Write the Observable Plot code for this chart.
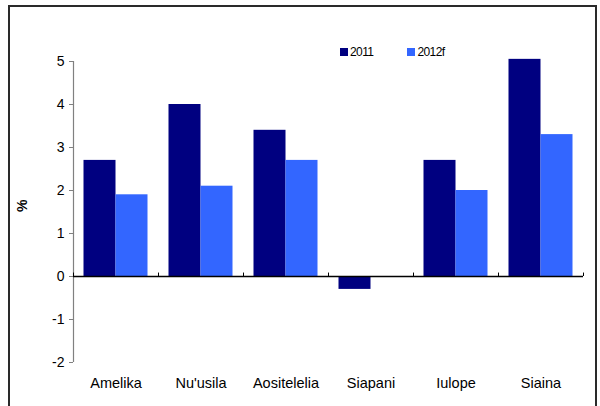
<!DOCTYPE html>
<html><head><meta charset="utf-8">
<script src="https://cdn.jsdelivr.net/npm/d3@7"></script>
<script src="https://cdn.jsdelivr.net/npm/@observablehq/plot@0.6"></script>
<style>
body{margin:0;background:#fff;font-family:"Liberation Sans",Arial,sans-serif;}
#wrap{position:relative;width:600px;height:406px;overflow:hidden;}
#frame{position:absolute;left:8px;top:5px;width:589px;height:430px;border:2px solid #2a2a2a;box-sizing:border-box;pointer-events:none;}
#chart{position:absolute;left:0;top:0;}
#legend{position:absolute;top:45px;left:340px;font-size:12px;letter-spacing:-0.6px;color:#000;display:flex;align-items:center;}
#legend .item{display:flex;align-items:center;}
#legend .sw{width:8px;height:8px;margin-right:2px;}
</style></head>
<body>
<div id="wrap"><div id="chart"></div><div id="legend"></div><div id="frame"></div></div>
<script>
const categories = ["Amelika","Nu'usila","Aositelelia","Siapani","Iulope","Siaina"];
const series = ["2011","2012f"];
const values2011 = [2.7, 4.0, 3.4, -0.3, 2.7, 5.05];
const values2012f = [1.9, 2.1, 2.7, 0, 2.0, 3.3];
const yTicks = [-2,-1,0,1,2,3,4,5];
const colors = ["#000080","#3366FF"];

const rows2011 = categories.map((c,i)=>({category:c, series:"2011", value:values2011[i]}));
const rows2012 = categories.map((c,i)=>({category:c, series:"2012f", value:values2012f[i]}));

const W = 600, H = 406, mL = 73, mR = 17, mT = 61, mB = 44;
const bw = (W - mL - mR) / categories.length;
const barW = 32;
const pad = (bw - 2*barW) / 2;

const chart = Plot.plot({
  width: W, height: H,
  marginLeft: mL, marginRight: mR, marginTop: mT, marginBottom: mB,
  style: {fontFamily: "Liberation Sans, Arial, sans-serif", fontSize: "13px", background: "transparent", color: "#000"},
  x: {domain: categories, padding: 0, axis: null},
  y: {domain: [-2, 5], axis: null},
  marks: [
    Plot.barY(rows2011, {x: "category", y: "value", fill: colors[0], insetLeft: pad, insetRight: pad + barW}),
    Plot.barY(rows2012, {x: "category", y: "value", fill: colors[1], insetLeft: pad + barW, insetRight: pad}),
    Plot.ruleX([categories[0]], {x: d => d, dx: -bw/2, y1: -2, y2: 5, stroke: "#808080", strokeWidth: 1.2}),
    Plot.axisY({ticks: yTicks, tickFormat: d => String(d), tickSize: 4, tickPadding: 5, label: null, fontSize: 14, stroke: "#808080", fill: "#000"}),
    Plot.ruleY([0], {stroke: "#000", strokeWidth: 1.5}),
    Plot.ruleX(categories, {x: d => d, dx: -bw/2, y1: 0, y2: 0.08, stroke: "#000"}),
    Plot.ruleX([categories[categories.length-1]], {x: d => d, dx: bw/2, y1: 0, y2: 0.08, stroke: "#000"}),
    Plot.axisX({anchor: "bottom", tickSize: 0, tickPadding: 15, label: null, fontSize: 14.5}),
    Plot.text(["%"], {frameAnchor: "left", dx: -51, rotate: -90, fontWeight: "bold", fontSize: 14})
  ]
});
document.getElementById("chart").appendChild(chart);

const legend = document.getElementById("legend");
series.forEach((s,i)=>{
  const it = document.createElement("div");
  it.className = "item";
  it.style.marginRight = i === 0 ? "34px" : "0";
  it.innerHTML = `<span class="sw" style="background:${colors[i]}"></span><span>${s}</span>`;
  legend.appendChild(it);
});
</script>
</body></html>
